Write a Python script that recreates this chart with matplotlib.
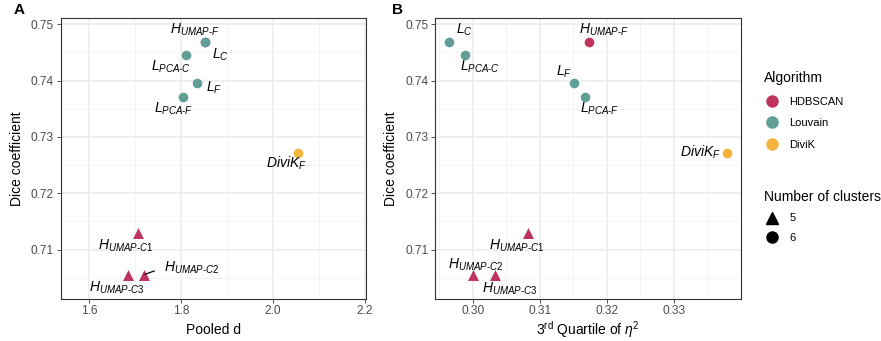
import matplotlib.pyplot as plt
from matplotlib.lines import Line2D

plt.rcParams['font.family'] = ['Liberation Sans', 'DejaVu Sans']
plt.rcParams['mathtext.fontset'] = 'custom'
plt.rcParams['mathtext.rm'] = 'Liberation Sans'
plt.rcParams['mathtext.it'] = 'Liberation Sans:italic'
plt.rcParams['mathtext.bf'] = 'Liberation Sans:bold'

# data
names = ['H_UMAP-F', 'L_C', 'L_PCA-C', 'L_F', 'L_PCA-F', 'DiviK_F',
         'H_UMAP-C1', 'H_UMAP-C2', 'H_UMAP-C3']
labels = [r'$H_{UMAP\text{-}F}$', r'$L_C$', r'$L_{PCA\text{-}C}$', r'$L_F$',
          r'$L_{PCA\text{-}F}$', r'$DiviK_F$', r'$H_{UMAP\text{-}C1}$',
          r'$H_{UMAP\text{-}C2}$', r'$H_{UMAP\text{-}C3}$']
algorithm = ['HDBSCAN', 'Louvain', 'Louvain', 'Louvain', 'Louvain', 'DiviK',
             'HDBSCAN', 'HDBSCAN', 'HDBSCAN']
n_clusters = [6, 6, 6, 6, 6, 6, 5, 5, 5]
dice = [0.7469, 0.7469, 0.74455, 0.7396, 0.7370, 0.7272, 0.7129, 0.7054, 0.7054]
pooled_d = [1.853, 1.853, 1.811, 1.834, 1.805, 2.054, 1.7065, 1.720, 1.6855]
eta2_q3 = [0.3173, 0.2965, 0.2988, 0.3151, 0.3167, 0.3379, 0.3082, 0.3001, 0.3033]

colors = {'HDBSCAN': '#c0335f', 'Louvain': '#5f9f95', 'DiviK': '#f4b43c'}
markers = {5: '^', 6: 'o'}

# label offsets in pixels (dx, dy up)
offs_a = [(-11, 12), (15, -13), (-15, -12), (17, -5), (-10, -11), (-11, -11),
          (-12, -13), (47, 8), (-12, -12)]
offs_b = [(15, 12), (15, 12), (15, -12), (-10, 11), (15, -11), (-27, 0),
          (-11, -13), (2, 11), (15, -13)]

fig = plt.figure(figsize=(8.81, 3.41), dpi=100)
ax_a = fig.add_axes([0.0692, 0.1246, 0.3459, 0.8226])
ax_b = fig.add_axes([0.4941, 0.1246, 0.3470, 0.8226])


def panel(ax, xs, offs, xlim, xticks, xminor, xlabel, xpad):
    for x, y, a, n in zip(xs, dice, algorithm, n_clusters):
        ax.scatter(x, y, s=62 if n == 5 else 48, marker=markers[n],
                   color=colors[a], linewidths=0, zorder=3)
    for i, (x, y) in enumerate(zip(xs, dice)):
        dx, dy = offs[i]
        if ax is ax_a and names[i] == 'H_UMAP-C2':
            ax.annotate('', xy=(x + 0.002, y + 0.0002), xytext=(x + 0.022, y + 0.0008),
                        arrowprops=dict(arrowstyle='-', color='black', lw=0.9,
                                        shrinkA=0, shrinkB=0), zorder=4)
        ax.annotate(labels[i], (x, y), xytext=(dx, dy), textcoords='offset pixels',
                    ha='center', va='center', fontsize=10, zorder=4)
    ax.set_xlim(*xlim)
    ax.set_ylim(0.7013, 0.7511)
    ax.set_xticks(xticks)
    ax.set_xticks(xminor, minor=True)
    ax.set_yticks([0.71, 0.72, 0.73, 0.74, 0.75])
    ax.set_yticks([0.705, 0.715, 0.725, 0.735, 0.745], minor=True)
    ax.grid(True, which='major', color='#ebebeb', lw=1.1, zorder=0)
    ax.grid(True, which='minor', color='#f3f3f3', lw=0.6, zorder=0)
    ax.set_axisbelow(True)
    ax.tick_params(which='major', length=3, width=0.6, color='#333333',
                   labelsize=8.6, labelcolor='#4d4d4d', pad=2)
    ax.tick_params(which='minor', length=0)
    for sp in ax.spines.values():
        sp.set_color('#333333')
        sp.set_linewidth(0.8)
    ax.set_xlabel(xlabel, fontsize=10, labelpad=xpad)
    ax.set_ylabel('Dice coefficient', fontsize=10, labelpad=5)


panel(ax_a, pooled_d, offs_a, (1.539, 2.2015), [1.6, 1.8, 2.0, 2.2],
      [1.7, 1.9, 2.1], 'Pooled d', 4)
ax_a.set_xticklabels(['1.6', '1.8', '2.0', '2.2'])
panel(ax_b, eta2_q3, offs_b, (0.29443, 0.34), [0.30, 0.31, 0.32, 0.33],
      [0.295, 0.305, 0.315, 0.325, 0.335],
      r'3$^{\mathrm{rd}}$ Quartile of $\eta^{\mathrm{2}}$', 1)
ax_b.set_xticklabels(['0.30', '0.31', '0.32', '0.33'])
ax_a.set_yticklabels(['0.71', '0.72', '0.73', '0.74', '0.75'])
ax_b.set_yticklabels(['0.71', '0.72', '0.73', '0.74', '0.75'])

fig.text(14 / 881, 1 - 10 / 341, 'A', fontsize=11, fontweight='bold', va='center')
fig.text(392 / 881, 1 - 10 / 341, 'B', fontsize=11, fontweight='bold', va='center')

# legends
alg_handles = [Line2D([], [], marker='o', ls='', color=colors[k], markersize=8)
               for k in colors]
fig.legend(alg_handles, list(colors), title='Algorithm', loc='upper left',
           bbox_to_anchor=(754 / 881, 1 - 61 / 341), frameon=False,
           fontsize=8, title_fontsize=10, alignment='left',
           handletextpad=0.8, labelspacing=1.05, handlelength=1.5)
size_handles = [Line2D([], [], marker=markers[k], ls='', color='black', markersize=8)
                for k in markers]
fig.legend(size_handles, ['5', '6'], title='Number of clusters', loc='upper left',
           bbox_to_anchor=(754 / 881, 1 - 180 / 341), frameon=False,
           fontsize=8, title_fontsize=10, alignment='left',
           handletextpad=0.8, labelspacing=0.85, handlelength=1.5)

fig.savefig('out.png', dpi=100)
